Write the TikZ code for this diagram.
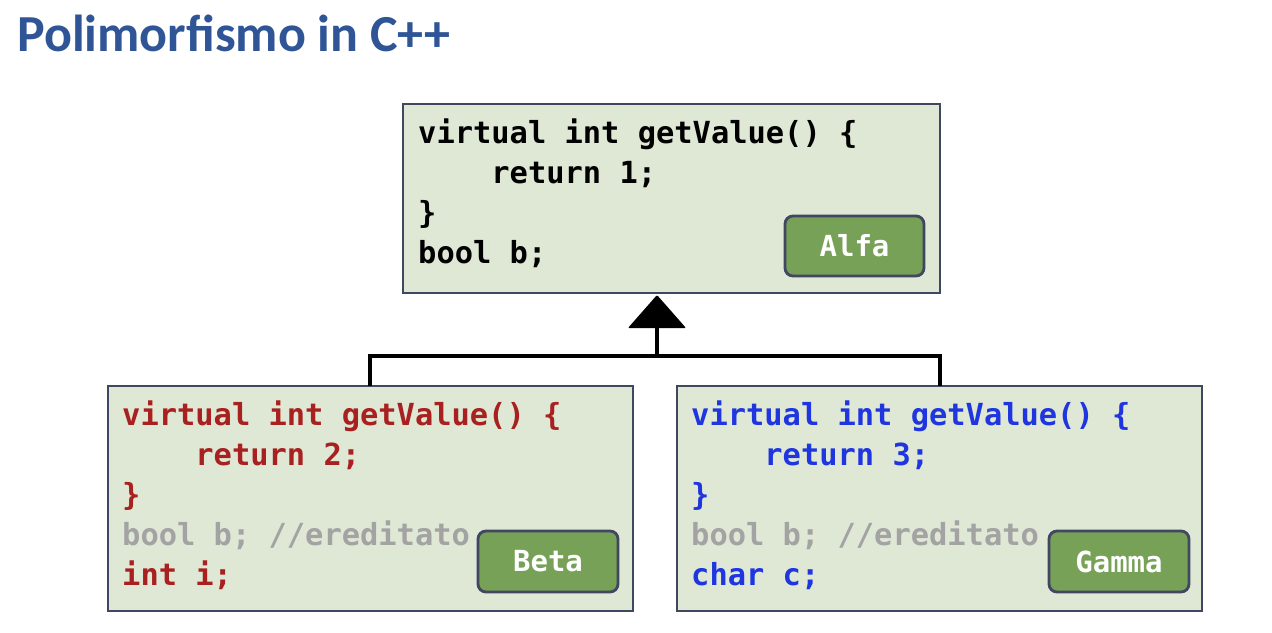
\documentclass[tikz,border=0pt]{standalone}
\usepackage{fontspec}
\setmainfont{Carlito}
\newfontfamily\codefont{DejaVu Sans Mono}
\usetikzlibrary{calc}
\definecolor{titleblue}{HTML}{2F5597}
\definecolor{boxfill}{HTML}{DEE8D5}
\definecolor{boxline}{HTML}{414661}
\definecolor{lblfill}{HTML}{76A157}
\definecolor{codered}{HTML}{A8201F}
\definecolor{codeblue}{HTML}{1F35E0}
\definecolor{codegray}{HTML}{A3A3A3}
\tikzset{
  classbox/.style={draw=boxline, line width=2.2pt, fill=boxfill},
  lblbox/.style={draw=boxline, line width=2.8pt, fill=lblfill, rounded corners=8pt},
  code/.style={anchor=base west, inner sep=0pt, align=left, font=\codefont\bfseries\fontsize{30.4}{40}\selectfont},
  lbltext/.style={text=white, inner sep=0pt, font=\codefont\bfseries\fontsize{29}{34}\selectfont},
  inherit/.style={line width=4.5pt, black},
}
\begin{document}
\begin{tikzpicture}[x=1pt,y=-1pt]
\useasboundingbox (0,0) rectangle (1272,632);
\fill[white] (0,0) rectangle (1272,632);
% title
\node[anchor=base west, inner sep=0pt, text=titleblue, font=\bfseries\fontsize{52}{58}\selectfont] (title) at (17,51) {Polimorfismo in C++};
% boxes
\draw[classbox] (403,104) rectangle (940,293);
\draw[classbox] (108,386) rectangle (633,611);
\draw[classbox] (677,386) rectangle (1202,611);
% code (anchor = baseline of last line)
\node[code] (alfacode) at (418,263) {virtual int getValue() \{\\\ \ \ \ return 1;\\\}\\bool b;};
\node[code, text=codered] (betacode) at (122,585) {virtual int getValue() \{\\\ \ \ \ return 2;\\\}\\\textcolor{codegray}{bool b; //ereditato}\\int i;};
\node[code, text=codeblue] (gammacode) at (691,585) {virtual int getValue() \{\\\ \ \ \ return 3;\\\}\\\textcolor{codegray}{bool b; //ereditato}\\char c;};
% labels
\draw[lblbox] (785,216) rectangle (924,276);
\node[lbltext] (alfa) at (854.5,246) {Alfa};
\draw[lblbox] (478,531) rectangle (618,592);
\node[lbltext] (beta) at (548,561.5) {Beta};
\draw[lblbox] (1049,531) rectangle (1189,592);
\node[lbltext] (gamma) at (1119,561.5) {Gamma};
% inheritance connector
\coordinate (betaT) at (370,386);
\coordinate (gammaT) at (940,386);
\coordinate (join) at (657,356);
\coordinate (tribase) at (657,327);
\draw[inherit, line join=miter] (betaT) |- (gammaT |- join) -- (gammaT);
\draw[inherit] (join) -- (tribase);
\fill[black, rounded corners=1pt] (628,328) -- (686,328) -- (657,295) -- cycle;
\end{tikzpicture}
\end{document}
